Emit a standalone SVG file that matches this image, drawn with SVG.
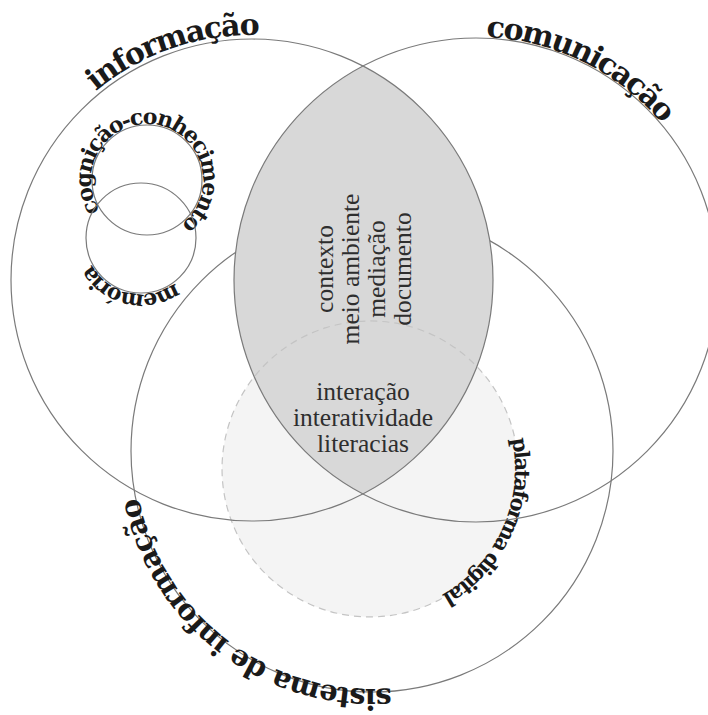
<svg xmlns="http://www.w3.org/2000/svg" width="708" height="715" viewBox="0 0 708 715">
<style>
.ring{fill:none;stroke:#7a7a7a;stroke-width:1.2}
.lbl{font-family:"DejaVu Serif",serif;font-weight:bold;fill:#1a1a1a}
.ctr{font-family:"Liberation Serif","Times New Roman",serif;font-size:25.5px;fill:#2e2e2e}
</style>
<defs>
<path id="p-info" d="M95.8 91.2 A245 245 0 0 1 294.5 38.7"/>
<path id="p-com" d="M486.2 37.2 A243 243 0 0 1 686.4 158.5"/>
<path id="p-sis" d="M391.1 688.2 A238 238 0 0 1 134.9 471.7"/>
<path id="p-pla" d="M511.8 438.9 A145 145 0 0 1 419.6 605.3"/>
<path id="p-cog" d="M100 210.5 A56 56 0 1 1 175 228.5"/>
<path id="p-mem" d="M175.1 282.4 A56 56 0 0 1 88.4 257.2"/>
</defs>
<rect width="708" height="715" fill="#ffffff"/>
<g id="sistema-de-informacao">
<circle class="ring" cx="372" cy="451" r="241"/>
</g>
<g id="plataforma-digital-fill">
<circle cx="370" cy="469" r="148" fill="#f4f4f4"/>
</g>
<g id="lens">
<path d="M362.9 66 A241 241 0 0 1 362.9 494 A242 242 0 0 1 362.9 66 Z" fill="#d8d8d8"/>
</g>
<g id="plataforma-digital">
<path d="M441.8 598.4 A148 148 0 1 1 514.8 438.2" fill="none" stroke="#c4c4c4" stroke-width="1.2" stroke-dasharray="7 5"/>
<text class="lbl" font-size="21"><textPath href="#p-pla" textLength="183" lengthAdjust="spacing">plataforma digital</textPath></text>
</g>
<g id="informacao">
<circle class="ring" cx="252" cy="280" r="241"/>
<text class="lbl" font-size="30"><textPath href="#p-info" textLength="177" lengthAdjust="spacing">informação</textPath></text>
</g>
<g id="comunicacao">
<circle class="ring" cx="476" cy="280" r="242"/>
<text class="lbl" font-size="30"><textPath href="#p-com" textLength="202" lengthAdjust="spacing">comunicação</textPath></text>
</g>
<g id="sistema-label">
<text class="lbl" font-size="29"><textPath href="#p-sis" textLength="346" lengthAdjust="spacing">sistema de informação</textPath></text>
</g>
<g id="cognicao-conhecimento">
<circle class="ring" cx="147" cy="180" r="55"/>
<text class="lbl" font-size="22"><textPath href="#p-cog" textLength="259" lengthAdjust="spacing">cognição-conhecimento</textPath></text>
</g>
<g id="memoria">
<circle class="ring" cx="141" cy="238" r="55"/>
<text class="lbl" font-size="22"><textPath href="#p-mem" textLength="97" lengthAdjust="spacing">memória</textPath></text>
</g>
<g id="centro">
<text class="ctr" text-anchor="middle" transform="translate(333 269) rotate(-90)">contexto</text>
<text class="ctr" text-anchor="middle" transform="translate(359 269) rotate(-90)">meio ambiente</text>
<text class="ctr" text-anchor="middle" transform="translate(385 269) rotate(-90)">mediação</text>
<text class="ctr" text-anchor="middle" transform="translate(411 269) rotate(-90)">documento</text>
<text class="ctr" text-anchor="middle" x="363" y="400">interação</text>
<text class="ctr" text-anchor="middle" x="363" y="426">interatividade</text>
<text class="ctr" text-anchor="middle" x="363" y="452">literacias</text>
</g>
<g id="connectors"/>
</svg>
